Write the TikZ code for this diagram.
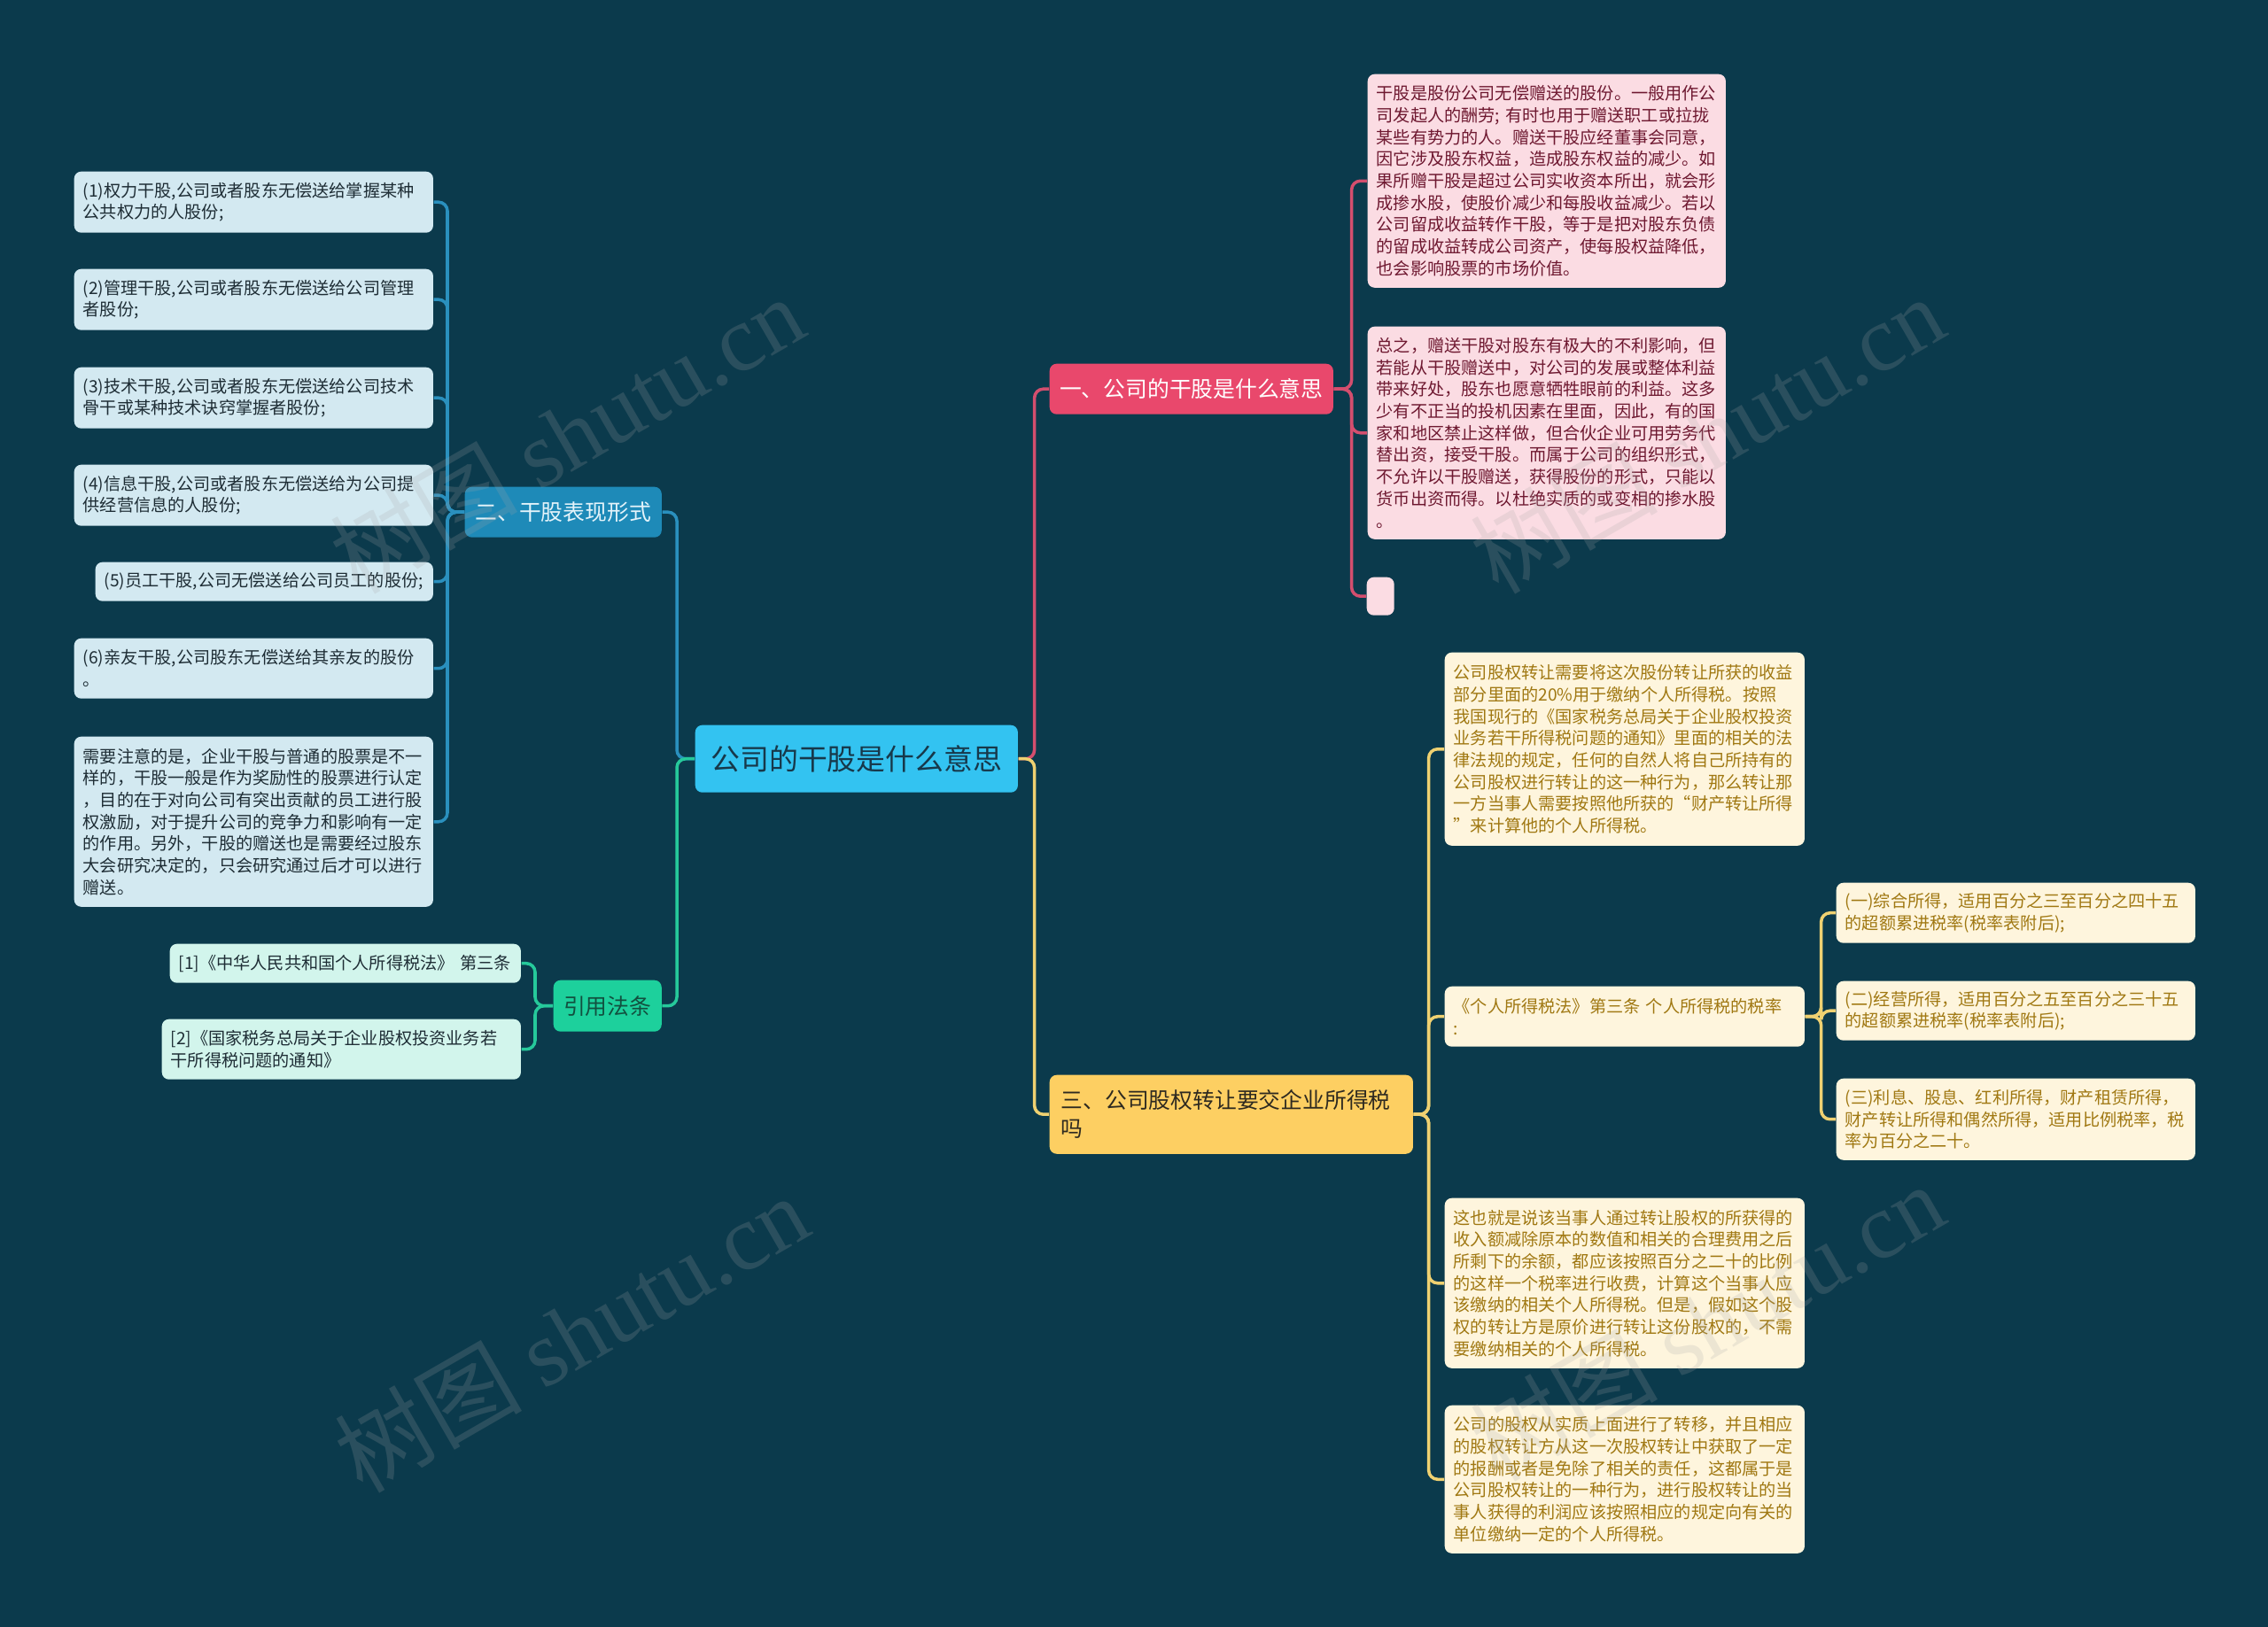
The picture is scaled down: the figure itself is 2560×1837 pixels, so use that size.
\documentclass[tikz,border=0pt]{standalone}
\usepackage{fontspec}
\setmainfont{Noto Sans CJK SC}
\newfontfamily\wmlatin{Liberation Serif}
\newcommand\fsItem{\fontsize{5.45pt}{7.02pt}\selectfont}
\newcommand\fsBranch{\fontsize{7.05pt}{9.1pt}\selectfont}
\newcommand\fsRoot{\fontsize{9.35pt}{11pt}\selectfont}
\definecolor{bgc}{HTML}{0B3A4C}
\definecolor{rootfill}{HTML}{33C3F1}
\definecolor{roottext}{HTML}{17384A}
\definecolor{pinkB}{HTML}{E9486C}
\definecolor{pinkfill}{HTML}{FBDCE3}
\definecolor{pinktext}{HTML}{6E1830}
\definecolor{pinkline}{HTML}{D44E6E}
\definecolor{blueB}{HTML}{1E8AB8}
\definecolor{bluetext}{HTML}{E3F3FA}
\definecolor{litemfill}{HTML}{D3E9F1}
\definecolor{litemtext}{HTML}{1E2D35}
\definecolor{blueline}{HTML}{2A90BE}
\definecolor{greenB}{HTML}{1DD09C}
\definecolor{greentext}{HTML}{12503F}
\definecolor{refill}{HTML}{D2F5EC}
\definecolor{greenline}{HTML}{26C99B}
\definecolor{yellowB}{HTML}{FDCF62}
\definecolor{yellowtext}{HTML}{2E2A20}
\definecolor{yfill}{HTML}{FEF5DD}
\definecolor{ytext}{HTML}{A07812}
\definecolor{yellowline}{HTML}{EFD171}
\tikzset{
  itembox/.style={rounded corners=0.08cm, anchor=north west, align=left, inner xsep=0.1cm, inner ysep=0pt, font=\fsItem},
  litem/.style={itembox, fill=litemfill, text=litemtext},
  ritem/.style={itembox, fill=refill, text=litemtext},
  pitem/.style={itembox, fill=pinkfill, text=pinktext},
  yitem/.style={itembox, fill=yfill, text=ytext},
  branch/.style={rounded corners=0.08cm, anchor=north west, align=center, inner sep=0pt, font=\fsBranch},
  conn/.style={line width=1pt, rounded corners=0.1cm},
  bl/.style={conn, draw=blueline},
  gl/.style={conn, draw=greenline},
  pl/.style={conn, draw=pinkline},
  yl/.style={conn, draw=yellowline},
  wm/.style={rotate=30, text=gray!70, text opacity=0.2, font=\fontsize{30pt}{32pt}\selectfont},
}
\begin{document}
\begin{tikzpicture}[x=0.01cm,y=-0.01cm]
\fill[bgc] (0,0) rectangle (2560,1837);
\useasboundingbox (0,0) rectangle (2560,1837);

% root and branches
\node[branch, fill=rootfill, text=roottext, font=\fsRoot, minimum width=3.64cm, minimum height=0.76cm] (C) at (784,818) {公司的干股是什么意思};
\node[branch, fill=pinkB, text=white, minimum width=3.20cm, minimum height=0.57cm] (B1) at (1184,410) {一、公司的干股是什么意思};
\node[branch, fill=blueB, text=bluetext, minimum width=2.22cm, minimum height=0.57cm] (B2) at (524,549) {二、干股表现形式};
\node[branch, fill=greenB, text=greentext, minimum width=1.22cm, minimum height=0.58cm] (B3) at (624,1106) {引用法条};
\node[branch, fill=yellowB, text=yellowtext, align=left, inner xsep=0.13cm, text width=3.84cm, minimum width=4.10cm, minimum height=0.89cm] (B4) at (1184,1213) {三、公司股权转让要交企业所得税\\吗};

% left items
\node[litem, minimum width=4.05cm, text width=3.85cm, minimum height=0.69cm] (L1) at (83,193) {(1)权力干股,公司或者股东无偿送给掌握某种\\公共权力的人股份;};
\node[litem, minimum width=4.05cm, text width=3.85cm, minimum height=0.69cm] (L2) at (83,303) {(2)管理干股,公司或者股东无偿送给公司管理\\者股份;};
\node[litem, minimum width=4.05cm, text width=3.85cm, minimum height=0.69cm] (L3) at (83,414) {(3)技术干股,公司或者股东无偿送给公司技术\\骨干或某种技术诀窍掌握者股份;};
\node[litem, minimum width=4.05cm, text width=3.85cm, minimum height=0.69cm] (L4) at (83,524) {(4)信息干股,公司或者股东无偿送给为公司提\\供经营信息的人股份;};
\node[litem, minimum width=3.81cm, text width=3.61cm, minimum height=0.44cm] (L5) at (107,634) {(5)员工干股,公司无偿送给公司员工的股份;};
\node[litem, minimum width=4.05cm, text width=3.85cm, minimum height=0.68cm] (L6) at (83,720) {(6)亲友干股,公司股东无偿送给其亲友的股份\\。};
\node[litem, minimum width=4.05cm, text width=3.85cm, minimum height=1.92cm] (L7) at (83,831) {需要注意的是，企业干股与普通的股票是不一\\样的，干股一般是作为奖励性的股票进行认定\\，目的在于对向公司有突出贡献的员工进行股\\权激励，对于提升公司的竞争力和影响有一定\\的作用。另外，干股的赠送也是需要经过股东\\大会研究决定的，只会研究通过后才可以进行\\赠送。};

% references
\node[ritem, minimum width=3.96cm, text width=3.76cm, minimum height=0.44cm] (R1) at (191,1065) {[1]《中华人民共和国个人所得税法》 第三条};
\node[ritem, minimum width=4.05cm, text width=3.85cm, minimum height=0.68cm] (R2) at (182,1150) {[2]《国家税务总局关于企业股权投资业务若\\干所得税问题的通知》};

% pink items
\node[pitem, minimum width=4.04cm, text width=3.84cm, minimum height=2.41cm] (P1) at (1543,83) {干股是股份公司无偿赠送的股份。一般用作公\\司发起人的酬劳; 有时也用于赠送职工或拉拢\\某些有势力的人。赠送干股应经董事会同意，\\因它涉及股东权益，造成股东权益的减少。如\\果所赠干股是超过公司实收资本所出，就会形\\成掺水股，使股价减少和每股收益减少。若以\\公司留成收益转作干股，等于是把对股东负债\\的留成收益转成公司资产，使每股权益降低，\\也会影响股票的市场价值。};
\node[pitem, minimum width=4.04cm, text width=3.84cm, minimum height=2.40cm] (P2) at (1543,368) {总之，赠送干股对股东有极大的不利影响，但\\若能从干股赠送中，对公司的发展或整体利益\\带来好处，股东也愿意牺牲眼前的利益。这多\\少有不正当的投机因素在里面，因此，有的国\\家和地区禁止这样做，但合伙企业可用劳务代\\替出资，接受干股。而属于公司的组织形式，\\不允许以干股赠送，获得股份的形式，只能以\\货币出资而得。以杜绝实质的或变相的掺水股\\。};
\node[pitem, inner xsep=0pt, minimum width=0.31cm, minimum height=0.43cm] (P3) at (1542,651) {};

% yellow items
\node[yitem, minimum width=4.06cm, text width=3.86cm, minimum height=2.18cm] (Y1) at (1630,736) {公司股权转让需要将这次股份转让所获的收益\\部分里面的20\%用于缴纳个人所得税。按照\\我国现行的《国家税务总局关于企业股权投资\\业务若干所得税问题的通知》里面的相关的法\\律法规的规定，任何的自然人将自己所持有的\\公司股权进行转让的这一种行为，那么转让那\\一方当事人需要按照他所获的“财产转让所得\\”来计算他的个人所得税。};
\node[yitem, minimum width=4.06cm, text width=3.86cm, minimum height=0.68cm] (Y2) at (1630,1113) {《个人所得税法》第三条 个人所得税的税率\\:};
\node[yitem, minimum width=4.06cm, text width=3.86cm, minimum height=1.92cm] (Y3) at (1630,1352) {这也就是说该当事人通过转让股权的所获得的\\收入额减除原本的数值和相关的合理费用之后\\所剩下的余额，都应该按照百分之二十的比例\\的这样一个税率进行收费，计算这个当事人应\\该缴纳的相关个人所得税。但是，假如这个股\\权的转让方是原价进行转让这份股权的，不需\\要缴纳相关的个人所得税。};
\node[yitem, minimum width=4.06cm, text width=3.86cm, minimum height=1.67cm] (Y4) at (1630,1586) {公司的股权从实质上面进行了转移，并且相应\\的股权转让方从这一次股权转让中获取了一定\\的报酬或者是免除了相关的责任，这都属于是\\公司股权转让的一种行为，进行股权转让的当\\事人获得的利润应该按照相应的规定向有关的\\单位缴纳一定的个人所得税。};
\node[yitem, minimum width=4.05cm, text width=3.85cm, minimum height=0.68cm] (S1) at (2072,996) {(一)综合所得，适用百分之三至百分之四十五\\的超额累进税率(税率表附后);};
\node[yitem, minimum width=4.05cm, text width=3.85cm, minimum height=0.67cm] (S2) at (2072,1107) {(二)经营所得，适用百分之五至百分之三十五\\的超额累进税率(税率表附后);};
\node[yitem, minimum width=4.05cm, text width=3.85cm, minimum height=0.92cm] (S3) at (2072,1217) {(三)利息、股息、红利所得，财产租赁所得，\\财产转让所得和偶然所得，适用比例税率，税\\率为百分之二十。};

% connectors
\draw[bl] (C.west) -- ++(-20,0) |- (B2.east);
\draw[gl] (C.west) -- ++(-20,0) |- (B3.east);
\draw[pl] (C.east) -- ++(18,0) |- (B1.west);
\draw[yl] (C.east) -- ++(18,0) |- (B4.west);
\foreach \n in {L1,L2,L3,L4,L5,L6,L7} \draw[bl] (B2.west) -- ++(-19,0) |- (\n.east);
\foreach \n in {R1,R2} \draw[gl] (B3.west) -- ++(-20,0) |- (\n.east);
\foreach \n in {P1,P2,P3} \draw[pl] (B1.east) -- ++(20,0) |- (\n.west);
\foreach \n in {Y1,Y2,Y3,Y4} \draw[yl] (B4.east) -- ++(17,0) |- (\n.west);
\foreach \n in {S1,S2,S3} \draw[yl] (Y2.east) -- ++(18,0) |- (\n.west);

% watermarks
\node[wm] (W1) at (640,490) {树图 {\wmlatin shutu.cn}};
\node[wm] (W2) at (645,1505) {树图 {\wmlatin shutu.cn}};
\node[wm] (W3) at (1927,490) {树图 {\wmlatin shutu.cn}};
\node[wm] (W4) at (1927,1492) {树图 {\wmlatin shutu.cn}};
\end{tikzpicture}
\end{document}
